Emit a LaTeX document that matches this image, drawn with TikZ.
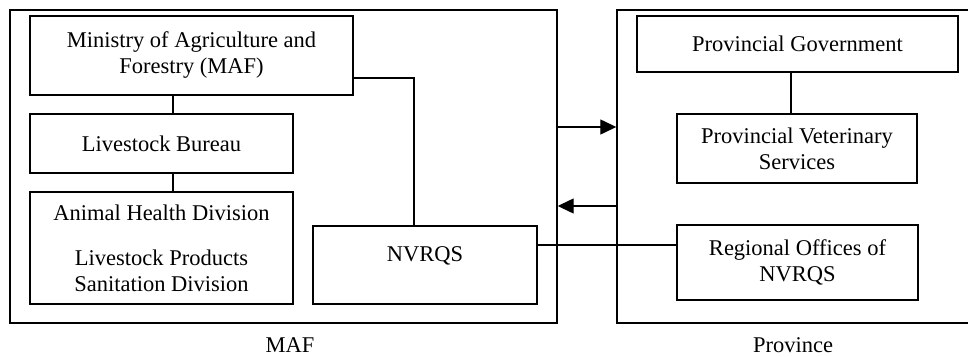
\documentclass[tikz,border=0pt]{standalone}
\usepackage{fontspec}
\setmainfont{Liberation Serif}
\usetikzlibrary{arrows.meta}
\begin{document}
\begin{tikzpicture}[
  x=1pt, y=-1pt,
  box/.style={draw, line width=1.3pt, inner sep=0pt, align=center, font=\fontsize{22.5}{26}\selectfont},
  frame/.style={draw, line width=1.4pt, inner sep=0pt},
  lbl/.style={font=\fontsize{22.5}{26}\selectfont, anchor=base, inner sep=0pt, text depth=0pt},
  link/.style={line width=1.3pt},
  >={Triangle[length=16pt,width=15pt]}
]
\useasboundingbox (0,0) rectangle (968,356);
\clip (0,0) rectangle (968,356);
% the two sides
\node[frame, minimum width=547pt, minimum height=313pt] (maf)  at (283.5,166.5) {};
\node[frame, minimum width=356pt, minimum height=313pt] (prov) at (795,166.5) {};
\node[lbl] (maflbl)  at (290,352) {MAF};
\node[lbl] (provlbl) at (793,352) {Province};
% MAF side
\node[box, minimum width=323pt, minimum height=79pt] (min) at (191.5,55.5) {Ministry of Agriculture and\\Forestry (MAF)};
\node[box, minimum width=263pt, minimum height=59pt] (bur) at (161.5,143.5) {Livestock Bureau};
\node[box, minimum width=263pt, minimum height=112pt] (ahd) at (161.5,248) {Animal Health Division\\[19pt]Livestock Products\\Sanitation Division};
\node[box, minimum width=224pt, minimum height=78pt, text depth=22pt] (nvr) at (425,265) {NVRQS};
% Province side
\node[box, minimum width=321pt, minimum height=56pt] (pg)  at (797.5,44) {Provincial Government};
\node[box, minimum width=240pt, minimum height=69pt] (pvs) at (797,148.5) {Provincial Veterinary\\Services};
\node[box, minimum width=241pt, minimum height=75pt] (rof) at (797.5,262.5) {Regional Offices of\\NVRQS};
% connectors
\draw[link] ([xshift=11.5pt]bur.north) -- ([xshift=11.5pt]bur.north |- min.south);
\draw[link] ([xshift=11.5pt]bur.south) -- ([xshift=11.5pt]ahd.north);
\draw[link] ([yshift=-22.5pt]min.east) -| ([xshift=-11pt]nvr.north);
\draw[link] ([xshift=-6pt]pvs.north) -- ([xshift=-6pt]pvs.north |- pg.south);
\draw[link] ([yshift=20pt]nvr.east) -- ([yshift=20pt]nvr.east -| rof.west);
\draw[link, ->] ([yshift=39.5pt]maf.east) -- ([yshift=39.5pt]maf.east -| prov.west);
\draw[link, ->] ([yshift=-39.5pt]prov.west) -- ([yshift=-39.5pt]prov.west -| maf.east);
\end{tikzpicture}
\end{document}
